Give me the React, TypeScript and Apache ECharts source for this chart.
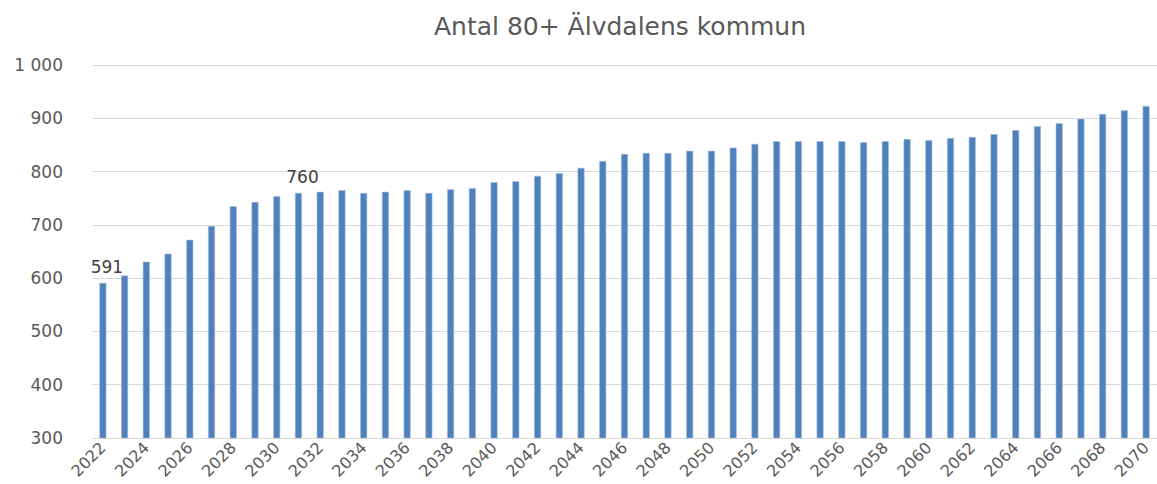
import React, { useEffect, useRef } from "react";
import * as echarts from "echarts";

const years: string[] = [];
for (let y = 2022; y <= 2070; y++) years.push(String(y));

const values: number[] = [
  591, 605, 631, 646, 672, 698, 735, 743, 754, 760,
  762, 765, 760, 762, 765, 760, 767, 769, 780, 782,
  792, 797, 807, 820, 833, 835, 835, 839, 839, 845,
  852, 857, 857, 857, 857, 855, 857, 861, 859, 863,
  865, 870, 878, 885, 891, 899, 908, 915, 923,
];

const labeledYears = ["2022", "2031"];
const title = "Antal 80+ Älvdalens kommun";
const yMin = 300;
const yMax = 1000;
const yStep = 100;

export default function App() {
  const ref = useRef<HTMLDivElement>(null);
  useEffect(() => {
    document.body.style.margin = "0";
    if (!ref.current) return;
    const chart = echarts.init(ref.current, undefined, { renderer: "svg" });
    const font = "'DejaVu Sans', sans-serif";
    chart.setOption({
      animation: false,
      title: {
        text: title,
        left: 615,
        textAlign: "center",
        top: 9,
        textStyle: { fontFamily: font, fontSize: 25, fontWeight: "normal", color: "#595959" },
      },
      grid: { left: 92, top: 65, bottom: 46, width: 1073 },
      xAxis: {
        type: "category",
        data: years,
        axisLine: { show: true, lineStyle: { color: "#d9d9d9", width: 1 } },
        axisTick: { show: false },
        axisLabel: {
          interval: 1,
          rotate: 45,
          margin: 7,
          fontFamily: font,
          fontSize: 16,
          color: "#595959",
        },
      },
      yAxis: {
        type: "value",
        min: yMin,
        max: yMax,
        interval: yStep,
        axisLine: { show: false },
        axisTick: { show: false },
        splitLine: { lineStyle: { color: "#d9d9d9", width: 1 } },
        axisLabel: {
          margin: 29,
          fontFamily: font,
          fontSize: 17,
          color: "#595959",
          formatter: (v: number) => String(v).replace(/\B(?=(\d{3})+(?!\d))/g, " "),
        },
      },
      series: [
        {
          type: "bar",
          data: values.map((v, i) => ({
            value: v,
            label: {
              show: labeledYears.includes(years[i]),
              position: "top",
              distance: 7,
              offset: [4, 0],
              fontFamily: font,
              fontSize: 17,
              color: "#404040",
            },
          })),
          barWidth: 7,
          itemStyle: { color: "#4f81bd", borderColor: "#a7bfde", borderWidth: 0.6 },
        },
      ],
    });
    return () => chart.dispose();
  }, []);
  return <div ref={ref} style={{ width: 1157, height: 484 }} />;
}
